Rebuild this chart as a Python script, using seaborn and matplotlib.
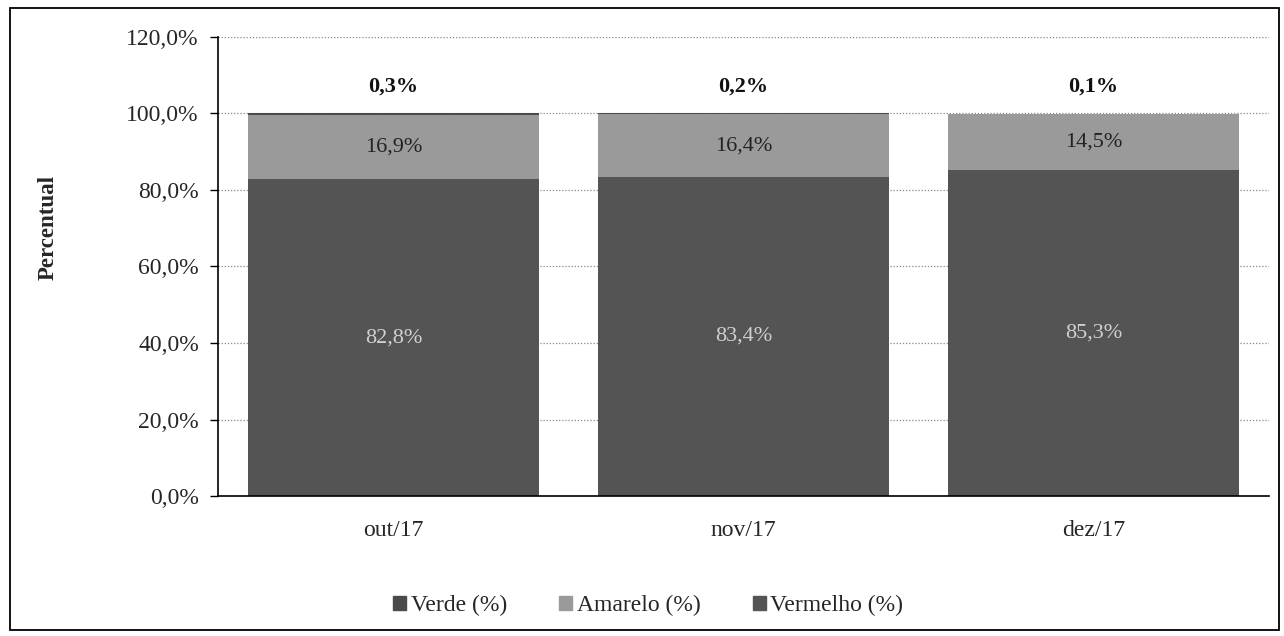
import numpy as np
import pandas as pd
import seaborn as sns
import matplotlib.pyplot as plt
from matplotlib.patches import Rectangle, Patch
from matplotlib.ticker import FuncFormatter

# Dados do gráfico (percentual por mês)
meses = ["out/17", "nov/17", "dez/17"]
vermelho = [82.8, 83.4, 85.3]
amarelo = [16.9, 16.4, 14.5]
verde = [0.3, 0.2, 0.1]

serie_nomes = ["Verde (%)", "Amarelo (%)", "Vermelho (%)"]
cor_verde = "#4a4a4a"
cor_amarelo = "#9a9a9a"
cor_vermelho = "#545454"

sns.set_style("white")
plt.rcParams["font.family"] = ["Liberation Serif", "DejaVu Serif"]

df = pd.DataFrame({"mes": meses, "vermelho": vermelho, "amarelo": amarelo, "verde": verde})
df["topo_amarelo"] = df["vermelho"] + df["amarelo"]
df["topo_verde"] = df["topo_amarelo"] + df["verde"]

fig = plt.figure(figsize=(12.84, 6.36), dpi=100)
ax = fig.add_axes([0.170, 0.220, 0.818, 0.722])

# barras empilhadas: desenha do topo para a base
for col, cor in [("topo_verde", cor_verde), ("topo_amarelo", cor_amarelo), ("vermelho", cor_vermelho)]:
    sns.barplot(data=df, x="mes", y=col, color=cor, width=0.83, saturation=1,
                linewidth=0, ax=ax, zorder=2)

ax.set_ylim(0, 120)
ax.set_xlim(-0.5, 2.5)
ax.set_yticks(np.arange(0, 121, 20))
ax.yaxis.set_major_formatter(FuncFormatter(lambda v, p: f"{v:.1f}%".replace(".", ",")))
ax.grid(axis="y", color="#888888", linestyle=(0, (1, 1.5)), linewidth=0.9, zorder=0)
ax.set_axisbelow(True)

# ticks do eixo x nas divisas entre categorias
ax.set_xticks([0, 1, 2])
ax.set_xticks([-0.5, 0.5, 1.5, 2.5], minor=True)
ax.tick_params(axis="x", which="major", length=0, labelsize=17, pad=17)
ax.tick_params(axis="x", which="minor", length=6, direction="out", width=1, color="black")
ax.tick_params(axis="y", length=6, direction="out", width=1, color="black",
               labelsize=17, left=True, pad=8)
ax.set_xlabel("")
ax.set_ylabel("Percentual", fontsize=16.5, fontweight="bold")
ax.yaxis.set_label_coords(-0.152, 0.585)

for s in ["top", "right"]:
    ax.spines[s].set_visible(False)
for s in ["left", "bottom"]:
    ax.spines[s].set_color("black")
    ax.spines[s].set_linewidth(1.2)

# rótulos de valores
fmt = lambda v: f"{v:.1f}%".replace(".", ",")
for i in range(len(meses)):
    ax.text(i, vermelho[i] / 2, fmt(vermelho[i]), ha="center", va="center",
            fontsize=16, color="#d0d0d0", zorder=3)
    ax.text(i, vermelho[i] + amarelo[i] / 2, fmt(amarelo[i]), ha="center", va="center",
            fontsize=16, color="#222222", zorder=3)
    ax.text(i, 107, fmt(verde[i]), ha="center", va="center",
            fontsize=16, fontweight="bold", color="#111111", zorder=3)

handles = [Patch(color=cor_verde), Patch(color=cor_amarelo), Patch(color=cor_vermelho)]
fig.legend(handles, serie_nomes, loc="center", bbox_to_anchor=(0.505, 0.048), ncol=3,
           frameon=False, fontsize=17, handlelength=0.55, handleheight=0.55,
           handletextpad=0.2, columnspacing=2.2)

# moldura externa
fig.patches.append(Rectangle((0.008, 0.01), 0.988, 0.978, transform=fig.transFigure,
                             fill=False, edgecolor="black", linewidth=1.3))

fig.savefig("out.png", dpi=100)
